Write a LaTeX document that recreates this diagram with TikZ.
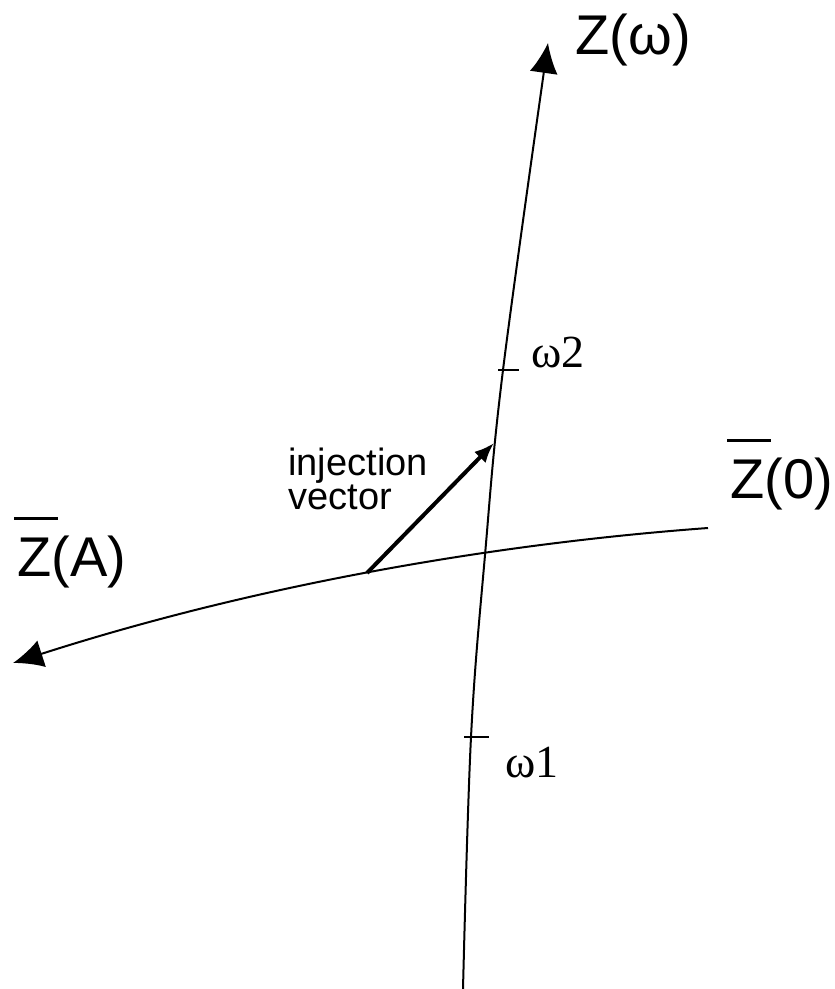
\documentclass[tikz,border=0pt]{standalone}
\usepackage{fontspec}
\setmainfont{Liberation Sans}
\newfontfamily\serifgr{Liberation Serif}
\usetikzlibrary{arrows.meta}

% Z with a bar over it
\newcommand\barZ{\makebox[0pt][l]{\kern-1.5pt\rule[28pt]{22pt}{1.5pt}}Z}

\begin{document}
\begin{tikzpicture}[
  x=0.5pt,y=-0.5pt,
  axis/.style={line width=1pt,-{Latex[length=15pt,width=14pt]}},
  inj/.style={line width=2pt,-{Latex[length=10pt,width=8pt]}},
  tickmark/.style={line width=1pt},
  axlabel/.style={anchor=base west,inner sep=0pt,font=\fontsize{28}{30}\selectfont},
  freqlabel/.style={anchor=base west,inner sep=0pt,font=\serifgr\fontsize{23}{25}\selectfont},
  note/.style={anchor=north west,inner sep=0pt,align=left,font=\fontsize{19}{17}\selectfont}
]
\useasboundingbox (0,0) rectangle (834,989);

% points on the Z(omega) curve
\coordinate (wbot) at (463,989);
\coordinate (w1) at (471,737);
\coordinate (wx) at (485,555);
\coordinate (vhead) at (494,443);
\coordinate (w2) at (503,370);
\coordinate (wtip) at (548,43);

% points on the Z(0)-Z(A) curve
\coordinate (aright) at (708,528);
\coordinate (vtail) at (367,573);
\coordinate (atip) at (13,663);

\draw[axis] plot[smooth,tension=0.6] coordinates {(wbot) (w1) (wx) (w2) (wtip)};
\draw[axis] (aright) .. controls (478,545) and (243,589) .. (atip);

\draw[tickmark] (w1) ++(-7,0) -- ++(25,0);
\draw[tickmark] (w2) ++(-5,0) -- ++(21,0);

\draw[inj] (vtail) -- (vhead);

\node[axlabel] (zom) at (575,55) {Z(ω)};
\node[axlabel] (zzero) at (730,498) {\barZ(0)};
\node[axlabel] (zA) at (17,576) {\barZ(A)};
\node[freqlabel] (om2) at (531,367) {ω2};
\node[freqlabel] (om1) at (505,777) {ω1};
\node[note] (injlbl) at (288,448) {injection\\vector};
\end{tikzpicture}
\end{document}
